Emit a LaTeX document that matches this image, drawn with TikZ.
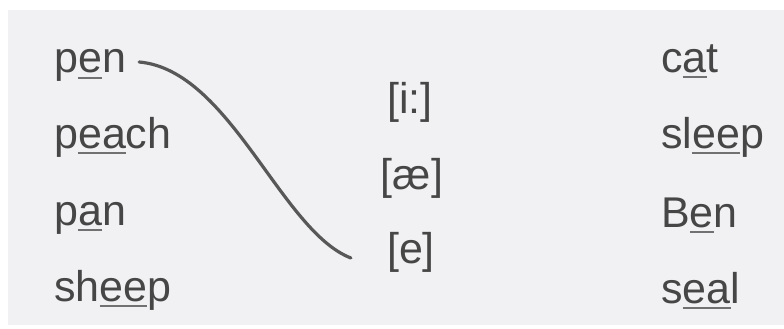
\documentclass[tikz,border=0pt]{standalone}
\usepackage{fontspec}
\setmainfont{Liberation Sans}
\definecolor{inkgray}{HTML}{464646}
\definecolor{linegray}{HTML}{585858}
\definecolor{paper}{HTML}{F1F1F3}
% underline one vowel (or pair) of a word
\newcommand{\vowel}[1]{\setbox0\hbox{#1}\rlap{\textcolor{linegray!85}{\rule[-6pt]{\wd0}{1.6pt}}}\box0}
\begin{document}
\begin{tikzpicture}[
    x=1pt, y=-1pt,
    word/.style={
        anchor=base west,
        inner sep=0pt,
        text=inkgray,
        text height=31pt,
        text depth=9pt,
        font=\fontsize{43}{50}\selectfont
    },
    sound/.style={word, anchor=base},
    link/.style={draw=linegray, line width=3.2pt, line cap=round}
]
    \useasboundingbox (0,0) rectangle (784,329);
    \fill[paper] (8,10) rectangle (784,325);

    % left column
    \node[word] (pen)   at (54,73)  {p\vowel{e}n};
    \node[word] (peach) at (54,148) {p\vowel{ea}ch};
    \node[word] (pan)   at (54,225) {p\vowel{a}n};
    \node[word] (sheep) at (54,301) {sh\vowel{ee}p};

    % sounds
    \node[sound] (ipa-i)  at (410,113) {[i:]};
    \node[sound] (ipa-ae) at (412,189) {[æ]};
    \node[sound] (ipa-e)  at (411,263) {[e]};

    % right column
    \node[word] (cat)   at (661,72)  {c\vowel{a}t};
    \node[word] (sleep) at (661,148) {sl\vowel{ee}p};
    \node[word] (ben)   at (661,227) {B\vowel{e}n};
    \node[word] (seal)  at (661,303) {s\vowel{ea}l};

    \draw[link] ([xshift=13pt]pen.east)
        .. controls (230,70) and (281,231) ..
        ([xshift=-36pt,yshift=-6pt]ipa-e.west);
\end{tikzpicture}
\end{document}
